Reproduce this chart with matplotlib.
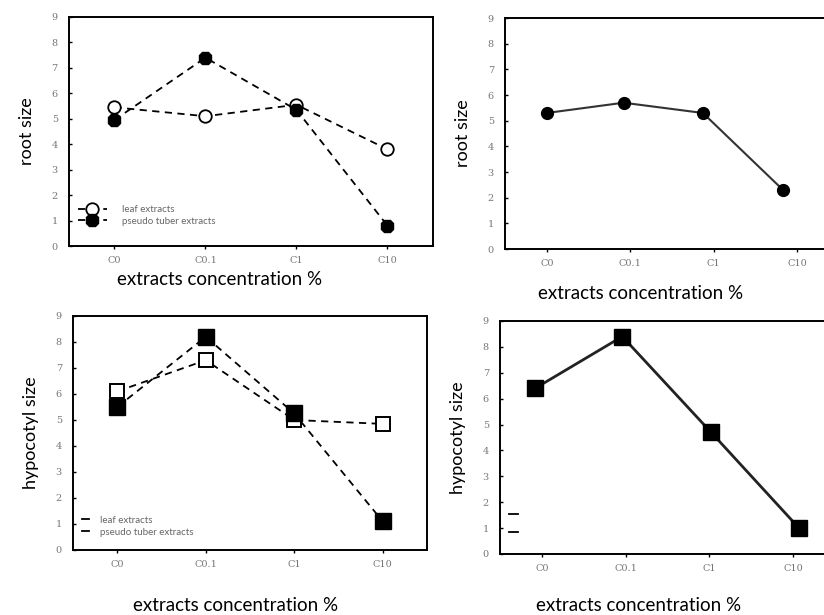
import numpy as np
import matplotlib
matplotlib.use("Agg")
import matplotlib.pyplot as plt
from matplotlib.lines import Line2D

categories = ["C0", "C0.1", "C1", "C10"]
yticks = list(range(0, 10))

# root size
root_leaf = [5.45, 5.1, 5.55, 3.8]
root_tuber = [4.95, 7.4, 5.35, 0.8]
root_mean = [5.3, 5.7, 5.3, 2.3]
root_mean_x = [0.0, 0.92, 1.87, 2.83]

# hypocotyl size
hyp_leaf = [6.1, 7.3, 5.0, 4.85]
hyp_tuber = [5.5, 8.2, 5.25, 1.1]
hyp_mean = [6.4, 8.4, 4.7, 1.0]
hyp_mean_x = [-0.08, 0.96, 2.02, 3.07]

legend_labels = ["leaf extracts", "pseudo tuber extracts"]

plt.rcParams["font.family"] = ["Lato", "DejaVu Sans"]
fig = plt.figure(figsize=(8.24, 6.15), dpi=100)
fig.patch.set_facecolor("white")

dash = (0, (4, 3))
tick_font = {"family": "DejaVu Serif", "size": 7, "color": "#777777"}


def style_axes(ax, ylabel):
    ax.set_xlim(-0.5, 3.5)
    ax.set_ylim(0, 9)
    ax.set_xticks(range(len(categories)))
    ax.set_xticklabels(categories, fontdict=tick_font)
    ax.set_yticks(yticks)
    ax.set_yticklabels([str(v) for v in yticks], fontdict=tick_font)
    ax.tick_params(axis="y", direction="in", length=2, width=1, pad=8)
    ax.tick_params(axis="x", direction="out", length=2, width=1, pad=5)
    for s in ax.spines.values():
        s.set_linewidth(1.4)
        s.set_color("black")
    ax.set_ylabel(ylabel, fontsize=13, labelpad=12)


# top left
ax1 = fig.add_axes([0.0837, 0.600, 0.4417, 0.3724])
x = np.arange(len(categories))
ax1.plot(x, root_leaf, linestyle=dash, color="black", lw=1.3, marker="o",
         markersize=9, markerfacecolor="white", markeredgecolor="black",
         markeredgewidth=1.3, label=legend_labels[0])
ax1.plot(x, root_tuber, linestyle=dash, color="black", lw=1.3, marker="8",
         markersize=10, markerfacecolor="black", markeredgecolor="black",
         label=legend_labels[1])
style_axes(ax1, "root size")
leg = ax1.legend(loc="lower left", bbox_to_anchor=(0.0, 0.05), frameon=False,
                 fontsize=7, handlelength=3.0, handletextpad=1.6, labelspacing=0.25)
for t in leg.get_texts():
    t.set_color("#666666")
fig.text(0.266, 0.545, "extracts concentration %", ha="center", va="center", fontsize=13.5)

# top right
ax2 = fig.add_axes([0.6129, 0.5951, 0.4053, 0.3756])
ax2.plot(root_mean_x, root_mean, linestyle="-", color="#333333", lw=1.5, marker="o",
         markersize=8.5, markerfacecolor="black", markeredgecolor="black")
style_axes(ax2, "root size")
fig.text(0.777, 0.523, "extracts concentration %", ha="center", va="center", fontsize=13.5)

# bottom left
ax3 = fig.add_axes([0.0886, 0.1057, 0.4296, 0.3805])
ax3.plot(x, hyp_leaf, linestyle=dash, color="black", lw=1.3, marker="s",
         markersize=10, markerfacecolor="white", markeredgecolor="black",
         markeredgewidth=1.4)
ax3.plot(x, hyp_tuber, linestyle=dash, color="black", lw=1.3, marker="s",
         markersize=11, markerfacecolor="black", markeredgecolor="black")
style_axes(ax3, "hypocotyl size")
handles = [Line2D([0], [0], color="black", lw=1.3),
           Line2D([0], [0], color="black", lw=1.3)]
leg3 = ax3.legend(handles, legend_labels, loc="lower left", bbox_to_anchor=(0.0, 0.02),
                  frameon=False, fontsize=7, handlelength=0.7, handletextpad=1.2,
                  labelspacing=0.3)
for t in leg3.get_texts():
    t.set_color("#666666")
fig.text(0.2864, 0.007, "extracts concentration %", ha="center", va="baseline", fontsize=13.5)

# bottom right
ax4 = fig.add_axes([0.6068, 0.0992, 0.4066, 0.3789])
ax4.plot(hyp_mean_x, hyp_mean, linestyle="-", color="#222222", lw=2.0, marker="s",
         markersize=12, markerfacecolor="black", markeredgecolor="black")
style_axes(ax4, "hypocotyl size")
handles4 = [Line2D([0], [0], color="black", lw=1.3),
            Line2D([0], [0], color="black", lw=1.3)]
ax4.legend(handles4, ["", ""], loc="lower left", bbox_to_anchor=(0.0, 0.035),
           frameon=False, fontsize=7, handlelength=0.9, labelspacing=0.9)
fig.text(0.7755, 0.006, "extracts concentration %", ha="center", va="baseline", fontsize=13.5)

plt.savefig("out.png", dpi=100)
